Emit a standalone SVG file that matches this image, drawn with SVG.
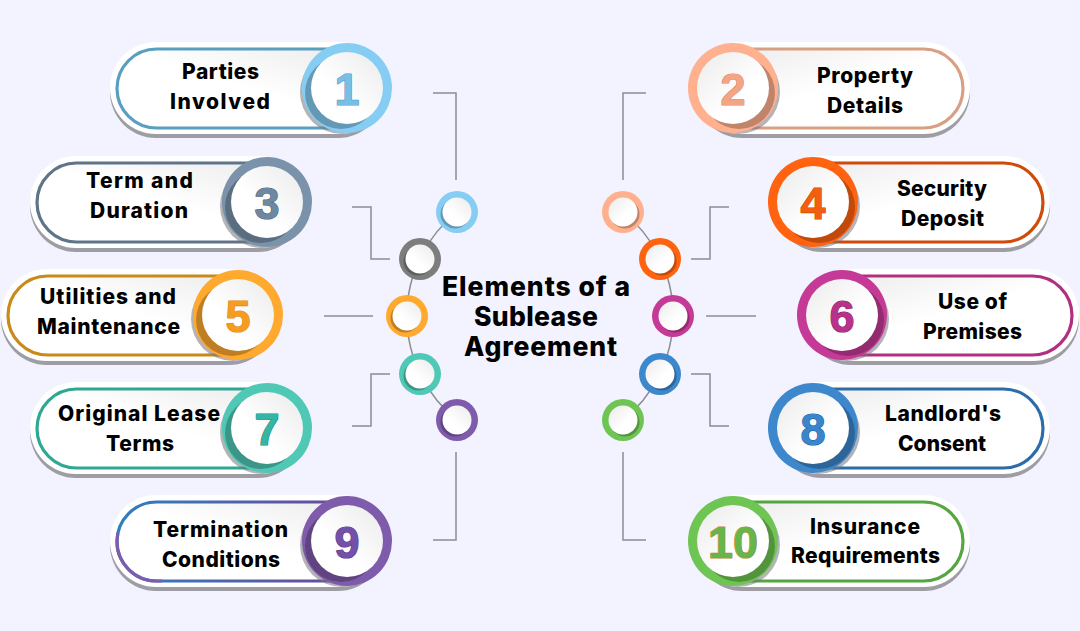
<svg xmlns="http://www.w3.org/2000/svg" width="1080" height="631" viewBox="0 0 1080 631">
<defs>
<linearGradient id="wl" x1="0" y1="1" x2="1" y2="0"><stop offset="0.4" stop-color="#ffffff"/><stop offset="1" stop-color="#ebebeb"/></linearGradient>
<linearGradient id="wr" x1="1" y1="1" x2="0" y2="0"><stop offset="0.4" stop-color="#ffffff"/><stop offset="1" stop-color="#ebebeb"/></linearGradient>
<linearGradient id="pl" x1="0" y1="1" x2="1" y2="0"><stop offset="0.5" stop-color="#ffffff"/><stop offset="0.9" stop-color="#eeeeee"/></linearGradient>
<linearGradient id="pr" x1="1" y1="1" x2="0" y2="0"><stop offset="0.5" stop-color="#ffffff"/><stop offset="0.9" stop-color="#eeeeee"/></linearGradient>
<linearGradient id="st9" gradientUnits="userSpaceOnUse" x1="117" y1="0" x2="340" y2="0"><stop offset="0" stop-color="#2f7fc0"/><stop offset="1" stop-color="#6a4a9e"/></linearGradient>
</defs>
<style>
text{font-family:"Inter","Liberation Sans",sans-serif;font-weight:800;text-anchor:middle;fill:#000}
.lb{font-size:21px}
.ti{font-size:26.5px;font-weight:800}
.num{font-family:"Liberation Sans",Arial,sans-serif;font-size:45px;font-weight:700;stroke-width:1.2;stroke-linejoin:round;paint-order:stroke}
.sh{fill:#9d9da3}
.out{fill:#fff}
.pl{fill:url(#pl);stroke-width:3.2}
.pr{fill:url(#pr);stroke-width:3.2}
.cl{fill:url(#wl)}
.cr{fill:url(#wr)}
.gs{fill:#77777d;fill-opacity:.55}
.cn{fill:none;stroke:#8c8c92;stroke-width:1.5}
.bg{fill:#f3f3ff}
.dark{fill:#000;fill-opacity:.25}
</style>
<rect class="bg" width="1080" height="631"/>
<g id="connectors">
<path class="cn" d="M457 212A133 133 0 0 0 457 420"/>
<path class="cn" d="M623 212A133 133 0 0 1 623 420"/>
<path class="cn" d="M433 93H456V180"/>
<path class="cn" d="M352 207H371V259H390"/>
<path class="cn" d="M324 316H373"/>
<path class="cn" d="M352 426H371V374H390"/>
<path class="cn" d="M433 540H456V452"/>
<path class="cn" d="M646 93H623V180"/>
<path class="cn" d="M729 207H710V259H691"/>
<path class="cn" d="M706 316H756"/>
<path class="cn" d="M729 426H710V374H691"/>
<path class="cn" d="M646 540H623V452"/>
</g>
<g id="dots">
<g id="dot1"><circle cx="457" cy="212" r="21" fill="#86cdf3"/><circle class="dark" cx="455" cy="214" r="14.5"/><circle class="cl" cx="457" cy="212" r="14.5"/></g>
<g id="dot3"><circle cx="420" cy="259" r="21" fill="#7d7d7d"/><circle class="dark" cx="418" cy="261" r="14.5"/><circle class="cl" cx="420" cy="259" r="14.5"/></g>
<g id="dot5"><circle cx="407" cy="316" r="21" fill="#ffa92e"/><circle class="dark" cx="405" cy="318" r="14.5"/><circle class="cl" cx="407" cy="316" r="14.5"/></g>
<g id="dot7"><circle cx="420" cy="374" r="21" fill="#4fc8b5"/><circle class="dark" cx="418" cy="376" r="14.5"/><circle class="cl" cx="420" cy="374" r="14.5"/></g>
<g id="dot9"><circle cx="457" cy="420" r="21" fill="#7f5bab"/><circle class="dark" cx="455" cy="422" r="14.5"/><circle class="cl" cx="457" cy="420" r="14.5"/></g>
<g id="dot2"><circle cx="623" cy="212" r="21" fill="#ffb08e"/><circle class="dark" cx="625" cy="214" r="14.5"/><circle class="cr" cx="623" cy="212" r="14.5"/></g>
<g id="dot4"><circle cx="660" cy="259" r="21" fill="#ff6310"/><circle class="dark" cx="662" cy="261" r="14.5"/><circle class="cr" cx="660" cy="259" r="14.5"/></g>
<g id="dot6"><circle cx="673" cy="316" r="21" fill="#c43a96"/><circle class="dark" cx="675" cy="318" r="14.5"/><circle class="cr" cx="673" cy="316" r="14.5"/></g>
<g id="dot8"><circle cx="660" cy="374" r="21" fill="#3d87cc"/><circle class="dark" cx="662" cy="376" r="14.5"/><circle class="cr" cx="660" cy="374" r="14.5"/></g>
<g id="dot10"><circle cx="623" cy="420" r="21" fill="#6fc553"/><circle class="dark" cx="625" cy="422" r="14.5"/><circle class="cr" cx="623" cy="420" r="14.5"/></g>
</g>
<g id="title"><text class="ti" x="536" y="296" textLength="188">Elements of a</text><text class="ti" x="536" y="326" textLength="124">Sublease</text><text class="ti" x="540.5" y="356" textLength="153">Agreement</text></g>

<g id="node1">
<rect class="sh" x="110" y="46" width="274" height="92" rx="46"/><rect class="out" x="110" y="42" width="276" height="92" rx="46"/>
<rect class="pl" x="117" y="49" width="264" height="79" rx="39.5" stroke="#5b9fc0"/>
<circle class="gs" cx="342" cy="92" r="42"/><circle cx="347" cy="88" r="45" fill="#86cdf3"/><circle class="dark" cx="341" cy="93" r="36"/><circle class="cl" cx="347" cy="88" r="36"/>
<text class="num" x="347" y="105" style="fill:#78bfe6;stroke:#5ba0c8">1</text>
<text class="lb" x="220.5" y="79" textLength="77">Parties</text><text class="lb" x="220" y="109" textLength="100">Involved</text></g>

<g id="node3">
<rect class="sh" x="30" y="160" width="274" height="92" rx="46"/><rect class="out" x="30" y="156" width="276" height="92" rx="46"/>
<rect class="pl" x="37" y="163" width="264" height="79" rx="39.5" stroke="#5f7488"/>
<circle class="gs" cx="262" cy="206" r="42"/><circle cx="267" cy="202" r="45" fill="#7a93ab"/><circle class="dark" cx="261" cy="207" r="36"/><circle class="cl" cx="267" cy="202" r="36"/>
<text class="num" x="267" y="219" style="fill:#6f88a2;stroke:#4f667d">3</text>
<text class="lb" x="139.5" y="188" textLength="107">Term and</text><text class="lb" x="139" y="218" textLength="98">Duration</text></g>

<g id="node5">
<rect class="sh" x="1" y="273" width="274" height="92" rx="46"/><rect class="out" x="1" y="269" width="276" height="92" rx="46"/>
<rect class="pl" x="8" y="276" width="264" height="79" rx="39.5" stroke="#c98a1a"/>
<circle class="gs" cx="233" cy="319" r="42"/><circle cx="238" cy="315" r="45" fill="#ffa92e"/><circle class="dark" cx="232" cy="320" r="36"/><circle class="cl" cx="238" cy="315" r="36"/>
<text class="num" x="238" y="332" style="fill:#f59d1f;stroke:#e08a10">5</text>
<text class="lb" x="108" y="304" textLength="136">Utilities and</text><text class="lb" x="108.5" y="334" textLength="143">Maintenance</text></g>

<g id="node7">
<rect class="sh" x="30" y="386" width="274" height="92" rx="46"/><rect class="out" x="30" y="382" width="276" height="92" rx="46"/>
<rect class="pl" x="37" y="389" width="264" height="79" rx="39.5" stroke="#2fa893"/>
<circle class="gs" cx="262" cy="432" r="42"/><circle cx="267" cy="428" r="45" fill="#4fc8b5"/><circle class="dark" cx="261" cy="433" r="36"/><circle class="cl" cx="267" cy="428" r="36"/>
<text class="num" x="267" y="445" style="fill:#35b5a3;stroke:#238a7b">7</text>
<text class="lb" x="139" y="421" textLength="162">Original Lease</text><text class="lb" x="140" y="451" textLength="68">Terms</text></g>

<g id="node9">
<rect class="sh" x="110" y="499" width="274" height="92" rx="46"/><rect class="out" x="110" y="495" width="276" height="92" rx="46"/>
<rect class="pl" x="117" y="502" width="264" height="79" rx="39.5" stroke="url(#st9)"/>
<path d="M118 533A39.5 39.5 0 0 0 156.500 581H162" fill="none" stroke="#7f5bab" stroke-width="3.200"/>
<circle class="gs" cx="342" cy="545" r="42"/><circle cx="347" cy="541" r="45" fill="#7f5bab"/><circle class="dark" cx="341" cy="546" r="36"/><circle class="cl" cx="347" cy="541" r="36"/>
<text class="num" x="347" y="558" style="fill:#7450a8;stroke:#54358a">9</text>
<text class="lb" x="220.5" y="537" textLength="135">Termination</text><text class="lb" x="221" y="567" textLength="118">Conditions</text></g>

<g id="node2">
<rect class="sh" x="696" y="46" width="274" height="92" rx="46"/><rect class="out" x="694" y="42" width="276" height="92" rx="46"/>
<rect class="pr" x="699" y="49" width="264" height="79" rx="39.5" stroke="#d8a083"/>
<circle class="gs" cx="738" cy="92" r="42"/><circle cx="733" cy="88" r="45" fill="#ffb08e"/><circle class="dark" cx="739" cy="93" r="36"/><circle class="cr" cx="733" cy="88" r="36"/>
<text class="num" x="733" y="105" style="fill:#f3a585;stroke:#d58d6c">2</text>
<text class="lb" x="865" y="83" textLength="96">Property</text><text class="lb" x="865" y="113" textLength="76">Details</text></g>

<g id="node4">
<rect class="sh" x="776" y="160" width="274" height="92" rx="46"/><rect class="out" x="774" y="156" width="276" height="92" rx="46"/>
<rect class="pr" x="779" y="163" width="264" height="79" rx="39.5" stroke="#d04a0a"/>
<circle class="gs" cx="818" cy="206" r="42"/><circle cx="813" cy="202" r="45" fill="#ff6310"/><circle class="dark" cx="819" cy="207" r="36"/><circle class="cr" cx="813" cy="202" r="36"/>
<text class="num" x="813" y="219" style="fill:#f2600f;stroke:#c94a08">4</text>
<text class="lb" x="942" y="196" textLength="90">Security</text><text class="lb" x="942.500" y="226" textLength="83">Deposit</text></g>

<g id="node6">
<rect class="sh" x="805" y="273" width="274" height="92" rx="46"/><rect class="out" x="803" y="269" width="276" height="92" rx="46"/>
<rect class="pr" x="808" y="276" width="264" height="79" rx="39.5" stroke="#b0307f"/>
<circle class="gs" cx="847" cy="319" r="42"/><circle cx="842" cy="315" r="45" fill="#c43a96"/><circle class="dark" cx="848" cy="320" r="36"/><circle class="cr" cx="842" cy="315" r="36"/>
<text class="num" x="842" y="332" style="fill:#b8318b;stroke:#8f1f6a">6</text>
<text class="lb" x="972.500" y="309" textLength="69">Use of</text><text class="lb" x="972.500" y="339" textLength="99">Premises</text></g>

<g id="node8">
<rect class="sh" x="776" y="386" width="274" height="92" rx="46"/><rect class="out" x="774" y="382" width="276" height="92" rx="46"/>
<rect class="pr" x="779" y="389" width="264" height="79" rx="39.5" stroke="#2c6ca8"/>
<circle class="gs" cx="818" cy="432" r="42"/><circle cx="813" cy="428" r="45" fill="#3d87cc"/><circle class="dark" cx="819" cy="433" r="36"/><circle class="cr" cx="813" cy="428" r="36"/>
<text class="num" x="813" y="445" style="fill:#3a86cc;stroke:#2464a0">8</text>
<text class="lb" x="943" y="421" textLength="116">Landlord's</text><text class="lb" x="942" y="451" textLength="88">Consent</text></g>

<g id="node10">
<rect class="sh" x="696" y="499" width="274" height="92" rx="46"/><rect class="out" x="694" y="495" width="276" height="92" rx="46"/>
<rect class="pr" x="699" y="502" width="264" height="79" rx="39.5" stroke="#55a540"/>
<circle class="gs" cx="738" cy="545" r="42"/><circle cx="733" cy="541" r="45" fill="#6fc553"/><circle class="dark" cx="739" cy="546" r="36"/><circle class="cr" cx="733" cy="541" r="36"/>
<text class="num" x="733" y="558" style="fill:#66b64a;stroke:#b5893d">10</text>
<text class="lb" x="865" y="534" textLength="110">Insurance</text><text class="lb" x="865.500" y="563" textLength="149">Requirements</text></g>
</svg>
